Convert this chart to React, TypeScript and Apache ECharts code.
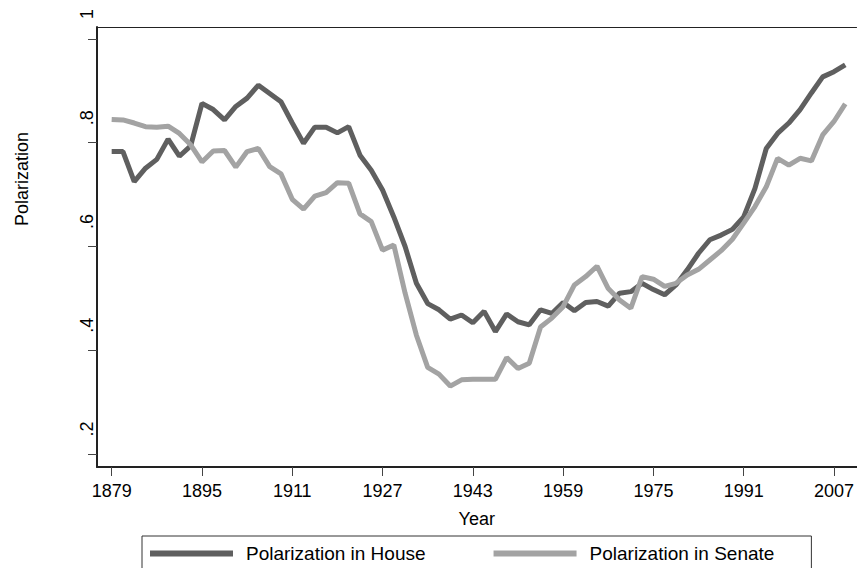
import React, { useEffect, useRef } from "react";
import * as echarts from "echarts";

const years = [
  1879, 1881, 1883, 1885, 1887, 1889, 1891, 1893, 1895, 1897,
  1899, 1901, 1903, 1905, 1907, 1909, 1911, 1913, 1915, 1917,
  1919, 1921, 1923, 1925, 1927, 1929, 1931, 1933, 1935, 1937,
  1939, 1941, 1943, 1945, 1947, 1949, 1951, 1953, 1955, 1957,
  1959, 1961, 1963, 1965, 1967, 1969, 1971, 1973, 1975, 1977,
  1979, 1981, 1983, 1985, 1987, 1989, 1991, 1993, 1995, 1997,
  1999, 2001, 2003, 2005, 2007, 2009,
];

const house = [
  0.783, 0.783, 0.725, 0.751, 0.768, 0.807, 0.774, 0.794, 0.876, 0.864,
  0.844, 0.870, 0.886, 0.911, 0.895, 0.879, 0.838, 0.799, 0.830, 0.830,
  0.819, 0.831, 0.776, 0.747, 0.709, 0.657, 0.600, 0.529, 0.490, 0.478,
  0.460, 0.468, 0.453, 0.475, 0.436, 0.470, 0.455, 0.449, 0.478, 0.471,
  0.492, 0.476, 0.492, 0.494, 0.485, 0.510, 0.513, 0.529, 0.517, 0.507,
  0.526, 0.555, 0.587, 0.613, 0.622, 0.633, 0.657, 0.712, 0.789, 0.818,
  0.838, 0.864, 0.896, 0.927, 0.937, 0.950,
];

const senate = [
  0.845, 0.844, 0.838, 0.831, 0.830, 0.832, 0.818, 0.796, 0.763, 0.784,
  0.785, 0.753, 0.783, 0.789, 0.754, 0.740, 0.691, 0.672, 0.697, 0.704,
  0.723, 0.722, 0.663, 0.648, 0.593, 0.603, 0.510, 0.429, 0.367, 0.354,
  0.331, 0.343, 0.344, 0.344, 0.344, 0.386, 0.365, 0.375, 0.445, 0.462,
  0.484, 0.526, 0.542, 0.562, 0.519, 0.497, 0.481, 0.542, 0.537, 0.523,
  0.529, 0.545, 0.556, 0.574, 0.592, 0.614, 0.645, 0.677, 0.715, 0.770,
  0.757, 0.770, 0.765, 0.815, 0.841, 0.875,
];

const xTicks = [1879, 1895, 1911, 1927, 1943, 1959, 1975, 1991, 2007];
const yTicks = [0.2, 0.4, 0.6, 0.8, 1];

const FONT = "'Liberation Sans', Arial, sans-serif";

export default function App() {
  const ref = useRef<HTMLDivElement>(null);
  useEffect(() => {
    if (!ref.current) return;
    const chart = echarts.init(ref.current, null, { renderer: "svg" });
    const hs = years.map((y, i) => [y, house[i]]);
    const ss = years.map((y, i) => [y, senate[i]]);
    chart.setOption({
      animation: false,
      backgroundColor: "#ffffff",
      textStyle: { fontFamily: FONT },
      grid: { left: 97, top: 27, right: 0, bottom: 101 },
      legend: {
        left: 142,
        top: 536,
        icon: "rect",
        itemWidth: 83,
        itemHeight: 6,
        itemGap: 68,
        padding: [8, 37, 40, 8],
        borderColor: "#333",
        borderWidth: 1,
        textStyle: { fontSize: 19, color: "#000", fontFamily: FONT, padding: [0, 0, 0, 8] },
        data: ["Polarization in House", "Polarization in Senate"],
      },
      xAxis: [
        {
          type: "value",
          min: 1876.4,
          max: 2011.0,
          name: "Year",
          nameLocation: "middle",
          nameGap: 43,
          nameTextStyle: { fontSize: 18, color: "#000", fontFamily: FONT },
          axisLine: { show: true, lineStyle: { color: "#222", width: 2 } },
          axisTick: {
            show: true,
            length: 9,
            customValues: xTicks,
            lineStyle: { color: "#444", width: 1 },
          },
          axisLabel: {
            customValues: xTicks,
            margin: 15,
            fontSize: 18,
            color: "#000",
            fontFamily: FONT,
            formatter: (v: number) => String(v),
          },
          splitLine: { show: false },
        },
        {
          type: "value",
          position: "top",
          min: 1876.4,
          max: 2011.0,
          axisLine: { show: true, lineStyle: { color: "#222", width: 1 } },
          axisTick: { show: false },
          axisLabel: { show: false },
          splitLine: { show: false },
        },
      ],
      yAxis: {
        type: "value",
        min: 0.175,
        max: 1.0231,
        name: "Polarization",
        nameLocation: "middle",
        nameRotate: 90,
        nameGap: 66,
        nameTextStyle: { fontSize: 18, color: "#000", fontFamily: FONT, padding: [0, 0, 0, 136] },
        axisLine: { show: true, lineStyle: { color: "#222", width: 2 } },
        axisTick: {
          show: true,
          length: 9,
          customValues: yTicks,
          lineStyle: { color: "#444", width: 1 },
        },
        axisLabel: {
          customValues: yTicks,
          rotate: 90,
          margin: 1,
          fontSize: 18,
          color: "#000",
          fontFamily: FONT,
          padding: [0, 0, 0, 50],
          formatter: (v: number) => (v === 1 ? "1" : String(v).replace(/^0/, "")),
        },
        splitLine: { show: false },
      },
      series: [
        {
          name: "Polarization in House",
          type: "line",
          data: hs,
          symbol: "none",
          color: "#5f5f5f",
          lineStyle: { width: 5, color: "#5f5f5f" },
        },
        {
          name: "Polarization in Senate",
          type: "line",
          data: ss,
          symbol: "none",
          color: "#a3a3a3",
          lineStyle: { width: 5, color: "#a3a3a3" },
        },
      ],
    });
    return () => chart.dispose();
  }, []);
  return (
    <div
      ref={ref}
      style={{ position: "absolute", left: 0, top: 0, width: 857, height: 568 }}
    />
  );
}
